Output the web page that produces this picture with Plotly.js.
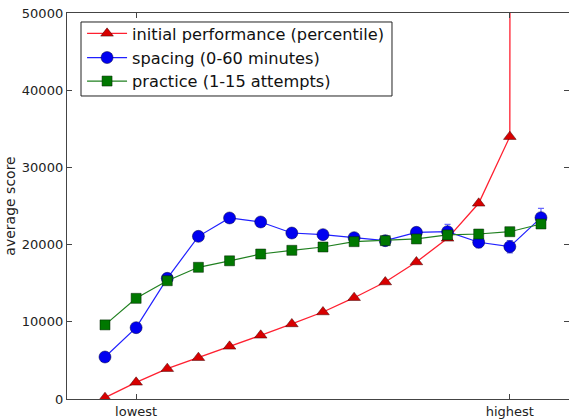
<!DOCTYPE html>
<html>
<head>
<meta charset="utf-8">
<script src="https://cdn.plot.ly/plotly-3.0.1.min.js"></script>
<style>html,body{margin:0;padding:0;background:#fff;}#chart{width:569px;height:419px;}</style>
</head>
<body>
<div id="chart"></div>
<script>
// ---- data ----
const xIndex = [1,2,3,4,5,6,7,8,9,10,11,12,13,14,15];
const xTickPositions = [2, 14];
const xTickLabels = ["lowest", "highest"];
const yTickValues = [0, 10000, 20000, 30000, 40000, 50000];

const initialName = "initial performance (percentile)";
const initialValues = [170, 2160, 3930, 5350, 6820, 8250, 9720, 11270, 13120, 15150, 17750, 20810, 25350, 33980, 5000000];

const spacingName = "spacing (0-60 minutes)";
const spacingValues = [5440, 9240, 15630, 21070, 23450, 22930, 21500, 21290, 20900, 20510, 21590, 21680, 20300, 19730, 23490];
const spacingErrors = [300, 300, 350, 350, 350, 350, 350, 350, 400, 450, 600, 950, 700, 800, 1200];

const practiceName = "practice (1-15 attempts)";
const practiceValues = [9600, 13040, 15320, 17060, 17900, 18780, 19260, 19690, 20380, 20510, 20730, 21250, 21370, 21670, 22670];
const practiceErrors = [250, 250, 250, 250, 250, 250, 250, 250, 250, 250, 300, 300, 300, 300, 400];

const yTitle = "average score";

// ---- chart ----
const font = "DejaVu Sans, sans-serif";
const traces = [
  {
    x: xIndex, y: initialValues, name: initialName, type: "scatter", mode: "lines+markers",
    legend: "legend",
    line: {color: "#ff2030", width: 1.3},
    marker: {symbol: "triangle-up", size: 11, color: "#d80000", line: {color: "#400000", width: 0.5}}
  },
  {
    x: xIndex, y: spacingValues, name: spacingName, type: "scatter", mode: "lines+markers",
    legend: "legend2",
    line: {color: "#2020ff", width: 1.2},
    marker: {symbol: "circle", size: 12, color: "#0000f0", line: {color: "#000040", width: 0.5}},
    error_y: {type: "data", array: spacingErrors, visible: true, color: "rgba(40,40,255,0.7)", thickness: 1.2, width: 3}
  },
  {
    x: xIndex, y: practiceValues, name: practiceName, type: "scatter", mode: "lines+markers",
    legend: "legend3",
    line: {color: "#208020", width: 1.2},
    marker: {symbol: "square", size: 10, color: "#007800", line: {color: "#002000", width: 0.5}},
    error_y: {type: "data", array: practiceErrors, visible: true, color: "rgba(0,120,0,0.7)", thickness: 1.2, width: 3}
  }
];

function legendAt(yPaper) {
  return {
    x: 0.03, y: yPaper, xanchor: "left", yanchor: "middle",
    bgcolor: "rgba(0,0,0,0)", borderwidth: 0,
    font: {family: font, size: 16.2, color: "#111"},
    itemwidth: 40
  };
}

const layout = {
  width: 569, height: 419,
  margin: {l: 67, r: 0, t: 13, b: 20, pad: 0},
  paper_bgcolor: "#fff", plot_bgcolor: "#fff",
  font: {family: font, size: 13, color: "#222"},
  showlegend: true,
  legend: legendAt(0.946),
  legend2: legendAt(0.8834),
  legend3: legendAt(0.8225),
  shapes: [{
    type: "rect", xref: "paper", yref: "paper", layer: "above",
    x0: 0.0279, x1: 0.6474, y0: 0.785, y1: 0.9767,
    line: {color: "#222", width: 1}, fillcolor: "#fff"
  }],
  xaxis: {
    range: [-0.22, 15.9],
    tickmode: "array", tickvals: xTickPositions, ticktext: xTickLabels,
    ticks: "inside", ticklen: 5, tickcolor: "#444", mirror: "ticks",
    showline: true, linecolor: "#444", linewidth: 1.2,
    showgrid: false, zeroline: false,
    tickfont: {family: font, size: 13, color: "#222"}
  },
  yaxis: {
    range: [0, 50000],
    tickmode: "array", tickvals: yTickValues, ticktext: yTickValues.map(String),
    ticks: "inside", ticklen: 5, tickcolor: "#444", mirror: "ticks",
    showline: true, linecolor: "#444", linewidth: 1.2,
    showgrid: false, zeroline: false,
    tickfont: {family: font, size: 13, color: "#222"},
    title: {text: yTitle, font: {family: font, size: 14, color: "#222"}, standoff: 3}
  }
};

Plotly.newPlot("chart", traces, layout, {displayModeBar: false, staticPlot: true});
</script>
</body>
</html>
